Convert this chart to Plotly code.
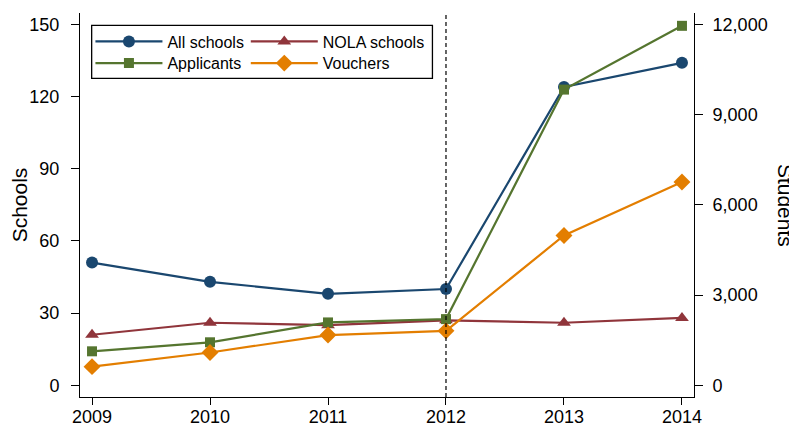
import plotly.graph_objects as go

years = [2009, 2010, 2011, 2012, 2013, 2014]
all_schools = [51, 43, 38, 40, 124, 134]
nola_schools = [21, 26, 25, 27, 26, 28]
applicants = [1130, 1430, 2090, 2200, 9830, 11950]
vouchers = [620, 1090, 1670, 1810, 4980, 6760]

left_ticks = [0, 30, 60, 90, 120, 150]
right_ticks = [0, 3000, 6000, 9000, 12000]
right_ticklabels = ["0", "3,000", "6,000", "9,000", "12,000"]

NAVY = "#1a476f"
MAROON = "#90353b"
GREEN = "#55752f"
ORANGE = "#e37e00"
FONT = "Liberation Sans, Arial, sans-serif"

fig = go.Figure()
fig.add_trace(go.Scatter(x=years, y=all_schools, name="All schools", mode="lines+markers",
                         line=dict(color=NAVY, width=2.2), marker=dict(symbol="circle", size=12, color=NAVY),
                         legend="legend"))
fig.add_trace(go.Scatter(x=years, y=nola_schools, name="NOLA schools", mode="lines+markers",
                         line=dict(color=MAROON, width=2.2), marker=dict(symbol="triangle-up", size=12, color=MAROON),
                         legend="legend2"))
fig.add_trace(go.Scatter(x=years, y=applicants, name="Applicants", mode="lines+markers", yaxis="y2",
                         line=dict(color=GREEN, width=2.2), marker=dict(symbol="square", size=10, color=GREEN),
                         legend="legend3"))
fig.add_trace(go.Scatter(x=years, y=vouchers, name="Vouchers", mode="lines+markers", yaxis="y2",
                         line=dict(color=ORANGE, width=2.2), marker=dict(symbol="diamond", size=13, color=ORANGE),
                         legend="legend4"))

axis_common = dict(showgrid=False, zeroline=False, showline=True, linecolor="black", linewidth=1,
                   ticks="outside", tickcolor="black", tickfont=dict(size=18, color="black"),
                   automargin=False)

def leg(x, y):
    return dict(x=x, y=y, xanchor="left", yanchor="top", bgcolor="rgba(0,0,0,0)",
                font=dict(size=16, color="black"), itemwidth=67)

# the page body has an 8px default margin; the figure is sized to fit the window with it
fig.update_layout(
    template="none",
    width=789, height=418,
    margin=dict(l=72, r=103, t=5, b=29, pad=0, autoexpand=False),
    paper_bgcolor="white", plot_bgcolor="white",
    font=dict(family=FONT, color="black"),
    showlegend=True,
    xaxis=dict(range=[2008.898, 2014.102], tickvals=years, ticklen=7, ticklabelstandoff=-4, **axis_common),
    yaxis=dict(range=[-4.86, 154.7], tickvals=left_ticks, ticklen=8, ticklabelstandoff=8,
               title=dict(text="Schools", font=dict(size=21, color="black"), standoff=8), **axis_common),
    yaxis2=dict(range=[-4.86 * 80, 154.7 * 80], tickvals=right_ticks, ticktext=right_ticklabels,
                overlaying="y", side="right", ticklen=8, ticklabelstandoff=6, **axis_common),
    legend=leg(0.017, 0.970),
    legend2=leg(0.27, 0.970),
    legend3=leg(0.017, 0.9135),
    legend4=leg(0.27, 0.9135),
    annotations=[dict(text="Students", xref="paper", yref="paper", x=1.15, y=0.5,
                      textangle=90, showarrow=False, font=dict(size=21, color="black"),
                      xanchor="center", yanchor="middle")],
    shapes=[
        dict(type="line", xref="x", yref="paper", x0=2012, x1=2012, y0=0, y1=1,
             line=dict(color="black", width=1.2, dash="4px,3px")),
        dict(type="rect", xref="paper", yref="paper", x0=0.019, x1=0.574, y0=0.830, y1=0.968,
             line=dict(color="black", width=1.3, dash="solid"), fillcolor="rgba(0,0,0,0)"),
    ],
)

fig.write_html("out.html")
